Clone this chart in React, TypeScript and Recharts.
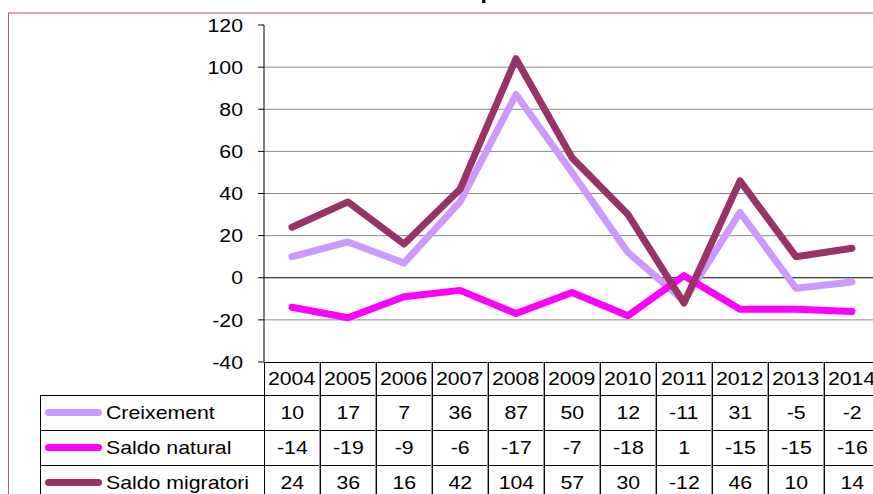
import { LineChart, Line, XAxis, YAxis, CartesianGrid } from "recharts";

const years = ["2004", "2005", "2006", "2007", "2008", "2009", "2010", "2011", "2012", "2013", "2014"];
const creixement = [10, 17, 7, 36, 87, 50, 12, -11, 31, -5, -2];
const saldoNatural = [-14, -19, -9, -6, -17, -7, -18, 1, -15, -15, -16];
const saldoMigratori = [24, 36, 16, 42, 104, 57, 30, -12, 46, 10, 14];
const yTicks = [-40, -20, 0, 20, 40, 60, 80, 100, 120];
const gridValues = [-20, 20, 40, 60, 80, 100];

const series = [
  { key: "creixement", name: "Creixement", color: "#CC99FF", values: creixement },
  { key: "natural", name: "Saldo natural", color: "#FF00FF", values: saldoNatural },
  { key: "migratori", name: "Saldo migratori", color: "#993366", values: saldoMigratori },
];

const data = years.map((year, i) => {
  const row: Record<string, string | number> = { year };
  series.forEach((s) => (row[s.key] = s.values[i]));
  return row;
});

const FONT = "'Liberation Sans', Arial, sans-serif";
const STRETCH = 1.15;

// layout of the plot + data table
const PLOT_LEFT = 264;
const COL_W = 56;
const HEAD_TOP = 362;
const ROW_TOPS = [395, 430, 465];
const ROW_H = 35;
const TABLE_LEFT = 40;

function Stretch({ children, origin = "center" }: { children: any; origin?: string }) {
  return (
    <span style={{ display: "inline-block", transform: `scaleX(${STRETCH})`, transformOrigin: origin }}>
      {children}
    </span>
  );
}

function YTick(props: any) {
  const { x, y, payload } = props;
  return (
    <text
      x={0}
      y={0}
      transform={`translate(${x},${y}) scale(${STRETCH},1)`}
      textAnchor="end"
      dy="0.36em"
      fontSize={18.5}
      fontFamily={FONT}
      fill="#000"
    >
      {payload.value}
    </text>
  );
}

function Cell({ left, top, width, height, children, align = "center" }: any) {
  return (
    <div
      style={{
        position: "absolute",
        left,
        top,
        width,
        height,
        display: "flex",
        alignItems: "center",
        justifyContent: align,
        fontFamily: FONT,
        fontSize: 18.5,
        color: "#000",
        whiteSpace: "nowrap",
      }}
    >
      {children}
    </div>
  );
}

function HLine({ x1, x2, y }: { x1: number; x2: number; y: number }) {
  return <div style={{ position: "absolute", left: x1, top: y, width: x2 - x1, height: 1, background: "#000" }} />;
}

function VLine({ x, y1, y2, color = "#000" }: { x: number; y1: number; y2: number; color?: string }) {
  return <div style={{ position: "absolute", left: x, top: y1, width: 1, height: y2 - y1, background: color }} />;
}

export default function App() {
  const tableRight = PLOT_LEFT + COL_W * years.length;
  return (
    <div style={{ position: "fixed", left: 0, top: 0, width: 873, height: 494, overflow: "hidden", background: "#fff" }}>
      {/* outer frame */}
      <div
        style={{
          position: "absolute",
          left: 8,
          top: 12,
          width: 1000,
          height: 600,
          borderTop: "2px solid #dfa6b6",
          borderLeft: "1.5px solid #c9527c",
        }}
      />
      {/* title, mostly cut off */}
      <svg width={873} height={20} style={{ position: "absolute", left: 0, top: 0 }}>
        <text
          x={0}
          y={0}
          transform={`translate(152,-1) scale(${STRETCH},1)`}
          fontSize={20}
          fontWeight="bold"
          fontFamily={FONT}
          fill="#000"
        >
          Evolució del creixement de la població
        </text>
      </svg>

      <div style={{ position: "absolute", left: 0, top: 0 }}>
        <LineChart width={tableRight} height={385} data={data} margin={{ top: 25, right: 0, bottom: 23, left: 0 }}>
          <CartesianGrid vertical={false} horizontalValues={gridValues} stroke="#888" />
          <CartesianGrid vertical={false} horizontalValues={[0]} stroke="#000" />
          <XAxis dataKey="year" hide padding={{ left: COL_W / 2, right: COL_W / 2 }} />
          <YAxis
            width={PLOT_LEFT}
            domain={[-40, 120]}
            ticks={yTicks}
            interval={0}
            stroke="#000"
            tickSize={6}
            tickMargin={15}
            tick={<YTick />}
          />
          {series.map((s) => (
            <Line
              key={s.key}
              type="linear"
              dataKey={s.key}
              name={s.name}
              stroke={s.color}
              strokeWidth={7}
              strokeLinecap="round"
              strokeLinejoin="round"
              dot={false}
              activeDot={false}
              isAnimationActive={false}
            />
          ))}
        </LineChart>
      </div>

      {/* data table */}
      <HLine x1={PLOT_LEFT} x2={tableRight} y={HEAD_TOP} />
      {ROW_TOPS.map((t) => (
        <HLine key={t} x1={TABLE_LEFT} x2={tableRight} y={t} />
      ))}
      <HLine x1={TABLE_LEFT} x2={tableRight} y={ROW_TOPS[2] + ROW_H} />
      <VLine x={TABLE_LEFT} y1={ROW_TOPS[0]} y2={500} />
      <VLine x={PLOT_LEFT} y1={HEAD_TOP} y2={500} />
      {years.slice(1).map((_, i) => {
        const x = PLOT_LEFT + COL_W * (i + 1);
        return (
          <div key={x}>
            <VLine x={x - 1} y1={HEAD_TOP} y2={500} color="#999" />
            <VLine x={x} y1={HEAD_TOP} y2={500} />
          </div>
        );
      })}

      {years.map((y, i) => (
        <Cell key={y} left={PLOT_LEFT + COL_W * i} top={HEAD_TOP} width={COL_W} height={ROW_TOPS[0] - HEAD_TOP}>
          <Stretch>{y}</Stretch>
        </Cell>
      ))}

      {series.map((s, r) => (
        <div key={s.key}>
          <div
            style={{
              position: "absolute",
              left: 45,
              top: ROW_TOPS[r] + ROW_H / 2 - 3.5,
              width: 57,
              height: 7,
              borderRadius: 4,
              background: s.color,
            }}
          />
          <Cell left={106} top={ROW_TOPS[r]} width={150} height={ROW_H} align="flex-start">
            <Stretch origin="left">{s.name}</Stretch>
          </Cell>
          {s.values.map((v, i) => (
            <Cell key={i} left={PLOT_LEFT + COL_W * i} top={ROW_TOPS[r]} width={COL_W} height={ROW_H}>
              <Stretch>{v}</Stretch>
            </Cell>
          ))}
        </div>
      ))}
    </div>
  );
}
